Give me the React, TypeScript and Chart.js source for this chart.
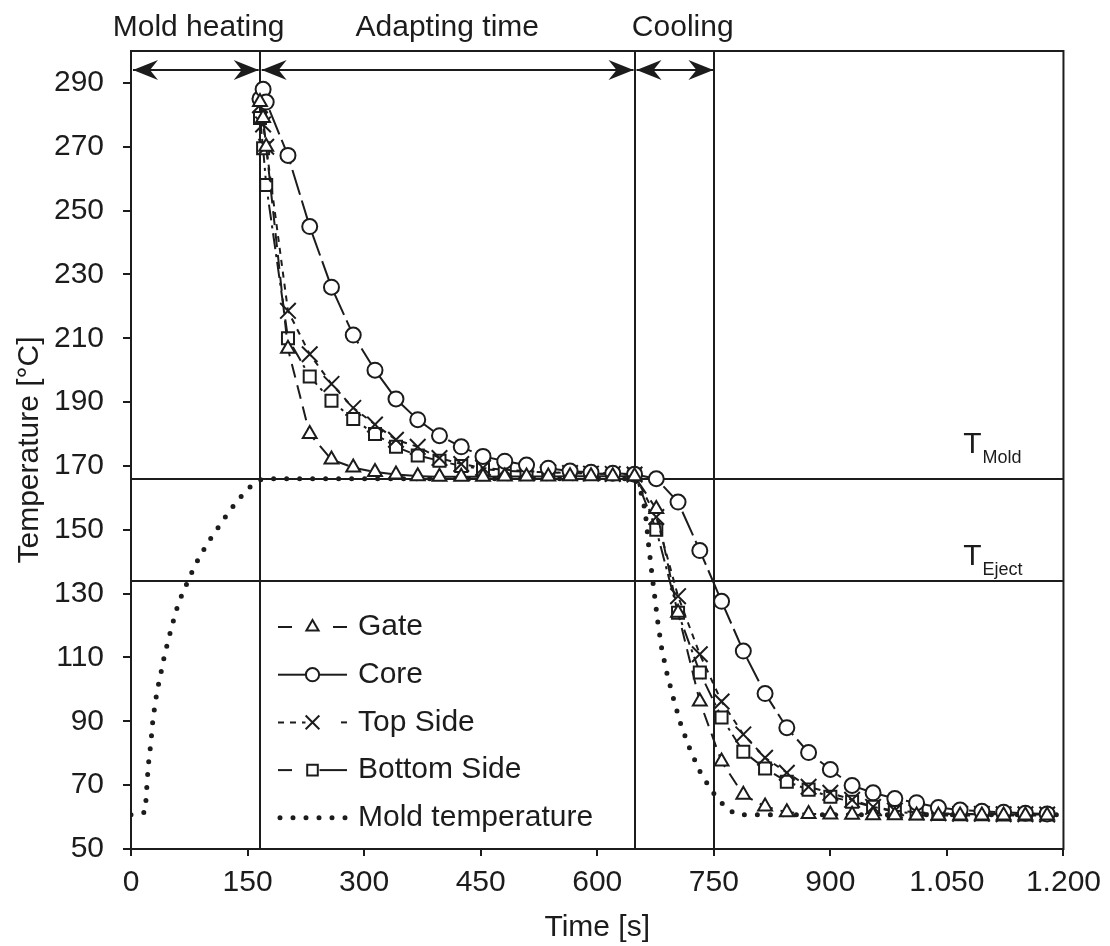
import React, { useEffect, useRef } from 'react';
import { Chart, registerables } from 'chart.js';

Chart.register(...registerables);

// ---------- data ----------
const TIME = [166, 170, 174, 202, 230, 258, 286, 314, 341, 369, 397, 425, 453, 481, 509, 537, 565, 592, 620, 648,
  676, 704, 732, 760, 788, 816, 844, 872, 900, 928, 955, 983, 1011, 1039, 1067, 1095, 1123, 1151, 1179];

const GATE = [284, 279, 270, 206.7, 180, 172, 169.5, 168.1, 167.3, 166.8, 166.6, 166.6, 166.6, 166.7, 166.7, 166.7, 166.8, 166.8, 166.8, 166.8,
  156.5, 124, 96.2, 77.4, 67, 63.3, 61.5, 61, 60.8, 60.7, 60.6, 60.6, 60.5, 60.5, 60.5, 60.5, 60.5, 60.5, 60.5];

const CORE = [285, 288, 284, 267.3, 245, 226, 211, 200, 191, 184.5, 179.5, 176, 173, 171.5, 170.3, 169.3, 168.4, 168, 167.7, 167.4,
  166, 158.7, 143.5, 127.6, 112, 98.7, 88, 80.2, 74.9, 69.9, 67.6, 65.8, 64.5, 63, 62.2, 61.8, 61.5, 61.2, 61];

const TOP_SIDE = [283, 277, 270, 218.6, 205, 195.7, 188.2, 183, 178.2, 176, 172.5, 170.6, 169.4, 168.8, 168.4, 168, 167.8, 167.6, 167.5, 167.3,
  154, 129.2, 111, 96.2, 85.9, 78.6, 73.9, 69.5, 67.6, 65.4, 63.2, 62, 61.5, 61.2, 61, 61, 60.9, 60.9, 60.8];

const BOTTOM_SIDE = [279, 269.5, 258, 210, 198, 190.4, 184.7, 180, 176, 173.3, 171.6, 170, 169, 168.5, 168.2, 168, 167.8, 167.6, 167.5, 167.3,
  150, 124, 105.3, 91.2, 80.5, 75.2, 71.1, 68.6, 66.4, 64.8, 63.2, 61.6, 61.2, 61, 60.9, 60.9, 60.8, 60.8, 60.8];

const MOLD_TIME = [0, 18, 19.5, 21, 23, 25.5, 28, 31, 34, 38, 43, 48, 54, 61, 68, 76, 86, 99, 113, 127, 140, 152, 165, 177,
  648, 655, 660, 663, 666, 670, 674, 678, 683, 690, 699, 708, 720, 734, 753, 765, 777, 790, 1195];
const MOLD_TEMP = [60.7, 61.5, 66, 72, 78, 83, 90, 95.5, 100, 104.5, 110.5, 115.5, 121, 127, 131, 135.5, 140.5, 146, 151, 156, 160, 163.2, 165.6, 166,
  166, 163, 158, 153, 145.5, 137, 129, 121, 112.7, 104.7, 96.3, 88.7, 80.8, 73.3, 66.3, 63.2, 61, 60.7, 60.7];

const X_TICKS = [0, 150, 300, 450, 600, 750, 900, 1050, 1200];
const X_TICK_LABELS = ['0', '150', '300', '450', '600', '750', '900', '1.050', '1.200'];
const Y_TICKS = [50, 70, 90, 110, 130, 150, 170, 190, 210, 230, 250, 270, 290];

const PHASE_BOUNDS = [0, 165.6, 648, 750.8];
const PHASE_LABELS = ['Mold heating', 'Adapting time', 'Cooling'];
const PHASE_LABEL_X = [87, 407, 710];
const ARROW_Y = 294;

const T_MOLD = 166;
const T_EJECT = 134;
const T_LABEL_X = 1071;
const T_MOLD_LABEL_Y = 174.1;
const T_EJECT_LABEL_Y = 139;

const SERIES_NAMES = ['Gate', 'Core', 'Top Side', 'Bottom Side', 'Mold temperature'];

// ---------- styling ----------
const FONT = '"Liberation Sans", Arial, Helvetica, sans-serif';
const INK = '#1c1c1c';

type Marker = 'triangle' | 'circle' | 'crossRot' | 'rect' | 'none';

const STYLES: { dash: number[]; legendDash: number[][]; marker: Marker; radius: number }[] = [
  { dash: [14, 8], legendDash: [[14, 30], [14, 30]], marker: 'triangle', radius: 8 },
  { dash: [26, 6], legendDash: [[], []], marker: 'circle', radius: 7.5 },
  { dash: [6, 6], legendDash: [[6, 6], [6, 30]], marker: 'crossRot', radius: 11 },
  { dash: [16, 5, 3, 5], legendDash: [[14, 30], []], marker: 'rect', radius: 8.5 },
  { dash: [0, 13], legendDash: [[0, 13], [0, 13]], marker: 'none', radius: 0 },
];

function drawMarker(ctx: CanvasRenderingContext2D, m: Marker, x: number, y: number, r: number) {
  ctx.save();
  ctx.setLineDash([]);
  ctx.lineWidth = 2;
  ctx.strokeStyle = INK;
  ctx.fillStyle = '#fff';
  ctx.beginPath();
  if (m === 'circle') {
    ctx.arc(x, y, r, 0, Math.PI * 2);
    ctx.fill();
    ctx.stroke();
  } else if (m === 'triangle') {
    for (let i = 0; i < 3; i++) {
      const a = (i * 2 * Math.PI) / 3;
      const px = x + Math.sin(a) * r;
      const py = y - Math.cos(a) * r;
      if (i === 0) ctx.moveTo(px, py); else ctx.lineTo(px, py);
    }
    ctx.closePath();
    ctx.fill();
    ctx.stroke();
  } else if (m === 'rect') {
    const s = Math.SQRT1_2 * r;
    ctx.rect(x - s, y - s, 2 * s, 2 * s);
    ctx.fill();
    ctx.stroke();
  } else if (m === 'crossRot') {
    const s = Math.SQRT1_2 * r;
    ctx.moveTo(x - s, y - s); ctx.lineTo(x + s, y + s);
    ctx.moveTo(x - s, y + s); ctx.lineTo(x + s, y - s);
    ctx.stroke();
  }
  ctx.restore();
}

function arrowHead(ctx: CanvasRenderingContext2D, tipX: number, y: number, dir: number) {
  const L = 25, H = 10, N = 17;
  ctx.beginPath();
  ctx.moveTo(tipX, y);
  ctx.lineTo(tipX - dir * L, y - H);
  ctx.lineTo(tipX - dir * N, y);
  ctx.lineTo(tipX - dir * L, y + H);
  ctx.closePath();
  ctx.fill();
}

const overlayPlugin = {
  id: 'overlay',
  beforeDatasetsDraw(chart: any) {
    const { ctx, chartArea: a, scales } = chart;
    const x = scales.x, y = scales.y;
    ctx.save();
    ctx.strokeStyle = INK;
    ctx.lineWidth = 2;
    ctx.setLineDash([]);
    ctx.beginPath();
    for (const v of [T_MOLD, T_EJECT]) {
      const py = Math.round(y.getPixelForValue(v));
      ctx.moveTo(a.left, py);
      ctx.lineTo(a.right, py);
    }
    for (const b of PHASE_BOUNDS.slice(1)) {
      const px = Math.round(x.getPixelForValue(b));
      ctx.moveTo(px, a.top);
      ctx.lineTo(px, a.bottom);
    }
    ctx.stroke();
    ctx.restore();
  },
  afterDraw(chart: any) {
    const { ctx, chartArea: a, scales } = chart;
    const x = scales.x, y = scales.y;
    ctx.save();
    ctx.strokeStyle = INK;
    ctx.fillStyle = INK;
    ctx.lineWidth = 2;
    ctx.setLineDash([]);
    // frame
    ctx.strokeRect(a.left, a.top, a.right - a.left, a.bottom - a.top);

    // arrows
    const ay = Math.round(y.getPixelForValue(ARROW_Y));
    for (let i = 0; i < PHASE_BOUNDS.length - 1; i++) {
      const x0 = x.getPixelForValue(PHASE_BOUNDS[i]) + 2;
      const x1 = x.getPixelForValue(PHASE_BOUNDS[i + 1]) - 1;
      ctx.beginPath();
      ctx.moveTo(x0, ay);
      ctx.lineTo(x1, ay);
      ctx.stroke();
      arrowHead(ctx, x0, ay, -1);
      arrowHead(ctx, x1, ay, 1);
    }

    // phase labels
    ctx.font = `30px ${FONT}`;
    ctx.textAlign = 'center';
    ctx.textBaseline = 'alphabetic';
    PHASE_LABELS.forEach((t, i) => {
      ctx.fillText(t, x.getPixelForValue(PHASE_LABEL_X[i]), a.top - 15);
    });

    // T labels
    const drawT = (sub: string, v: number) => {
      const px = x.getPixelForValue(T_LABEL_X);
      const py = y.getPixelForValue(v);
      ctx.textAlign = 'left';
      ctx.font = `30px ${FONT}`;
      ctx.fillText('T', px, py);
      const w = ctx.measureText('T').width;
      ctx.font = `18px ${FONT}`;
      ctx.fillText(sub, px + w + 1, py + 10);
    };
    drawT('Mold', T_MOLD_LABEL_Y);
    drawT('Eject', T_EJECT_LABEL_Y);

    // legend
    const lx0 = a.left + 147;
    const lx1 = a.left + 216;
    const cx = (lx0 + lx1) / 2;
    const tx = a.left + 227;
    const ly0 = a.top + 576;
    const step = 47.7;
    SERIES_NAMES.forEach((name, i) => {
      const st = STYLES[i];
      const ly = ly0 + step * i;
      ctx.save();
      if (st.marker === 'none') {
        ctx.lineWidth = 5;
        ctx.lineCap = 'round';
        ctx.setLineDash([0, 13]);
        ctx.beginPath();
        ctx.moveTo(lx0 + 2, ly);
        ctx.lineTo(lx1, ly);
        ctx.stroke();
      } else {
        ctx.lineWidth = 2;
        const gap = 7;
        ctx.setLineDash(st.legendDash[0]);
        ctx.beginPath();
        ctx.moveTo(lx0, ly);
        ctx.lineTo(cx - gap, ly);
        ctx.stroke();
        ctx.setLineDash(st.legendDash[1]);
        ctx.beginPath();
        if (st.legendDash[1].length) {
          ctx.moveTo(lx1, ly);
          ctx.lineTo(cx + gap, ly);
        } else {
          ctx.moveTo(cx + gap, ly);
          ctx.lineTo(lx1, ly);
        }
        ctx.stroke();
        drawMarker(ctx, st.marker, cx, ly, st.radius * 0.88);
      }
      ctx.restore();
      ctx.font = `30px ${FONT}`;
      ctx.textAlign = 'left';
      ctx.textBaseline = 'middle';
      ctx.fillStyle = INK;
      ctx.fillText(name, tx, ly);
    });
    ctx.restore();
  },
};

function toPoints(xs: number[], ys: number[]) {
  return xs.map((t, i) => ({ x: t, y: ys[i] }));
}

export default function App() {
  const canvasRef = useRef<HTMLCanvasElement | null>(null);

  useEffect(() => {
    const canvas = canvasRef.current;
    if (!canvas) return;
    const seriesData = [GATE, CORE, TOP_SIDE, BOTTOM_SIDE];
    const datasets: any[] = seriesData.map((vals, i) => ({
      label: SERIES_NAMES[i],
      data: toPoints(TIME, vals),
      borderColor: INK,
      borderWidth: 2,
      borderDash: STYLES[i].dash,
      pointStyle: STYLES[i].marker,
      pointRadius: STYLES[i].radius,
      pointBorderWidth: 2,
      pointBorderColor: INK,
      pointBackgroundColor: '#fff',
      fill: false,
      tension: 0,
    }));
    datasets.push({
      label: SERIES_NAMES[4],
      data: toPoints(MOLD_TIME, MOLD_TEMP),
      borderColor: INK,
      borderWidth: 5,
      borderDash: STYLES[4].dash,
      borderCapStyle: 'round',
      pointRadius: 0,
      fill: false,
      tension: 0,
    });

    const tickFont = { family: FONT, size: 30 };

    const chart = new Chart(canvas, {
      type: 'line',
      data: { datasets },
      options: {
        responsive: false,
        animation: false,
        devicePixelRatio: 1,
        layout: { padding: { top: 51, right: 44, left: 0, bottom: 0 } },
        plugins: { legend: { display: false }, tooltip: { enabled: false } },
        scales: {
          x: {
            type: 'linear',
            min: 0,
            max: 1200,
            afterBuildTicks: (s: any) => {
              s.ticks = X_TICKS.map((v) => ({ value: v }));
            },
            afterFit: (s: any) => {
              s.height = 97;
            },
            ticks: {
              callback: (_v: any, idx: number) => X_TICK_LABELS[idx],
              font: tickFont,
              color: INK,
              padding: 9,
              autoSkip: false,
              maxRotation: 0,
            },
            grid: { drawOnChartArea: false, drawTicks: true, tickLength: 7, color: INK, tickColor: INK, lineWidth: 2 },
            border: { display: true, color: INK, width: 2 },
            title: { display: true, text: 'Time [s]', font: tickFont, color: INK, padding: { top: 0, bottom: 0 } },
          },
          y: {
            type: 'linear',
            min: 50,
            max: 300,
            afterBuildTicks: (s: any) => {
              s.ticks = Y_TICKS.map((v) => ({ value: v }));
            },
            afterFit: (s: any) => {
              s.width = 131;
            },
            ticks: { font: tickFont, color: INK, padding: 19, autoSkip: false },
            grid: { drawOnChartArea: false, drawTicks: true, tickLength: 8, color: INK, tickColor: INK, lineWidth: 2 },
            border: { display: true, color: INK, width: 2 },
            title: { display: true, text: 'Temperature [°C]', font: tickFont, color: INK, padding: { top: 12, bottom: 0 } },
          },
        },
      },
      plugins: [overlayPlugin],
    } as any);

    return () => {
      chart.destroy();
    };
  }, []);

  return (
    <div style={{ position: 'absolute', left: 0, top: 0, width: 1110, height: 946, background: '#fff' }}>
      <canvas ref={canvasRef} width={1110} height={946} style={{ display: 'block' }} />
    </div>
  );
}
